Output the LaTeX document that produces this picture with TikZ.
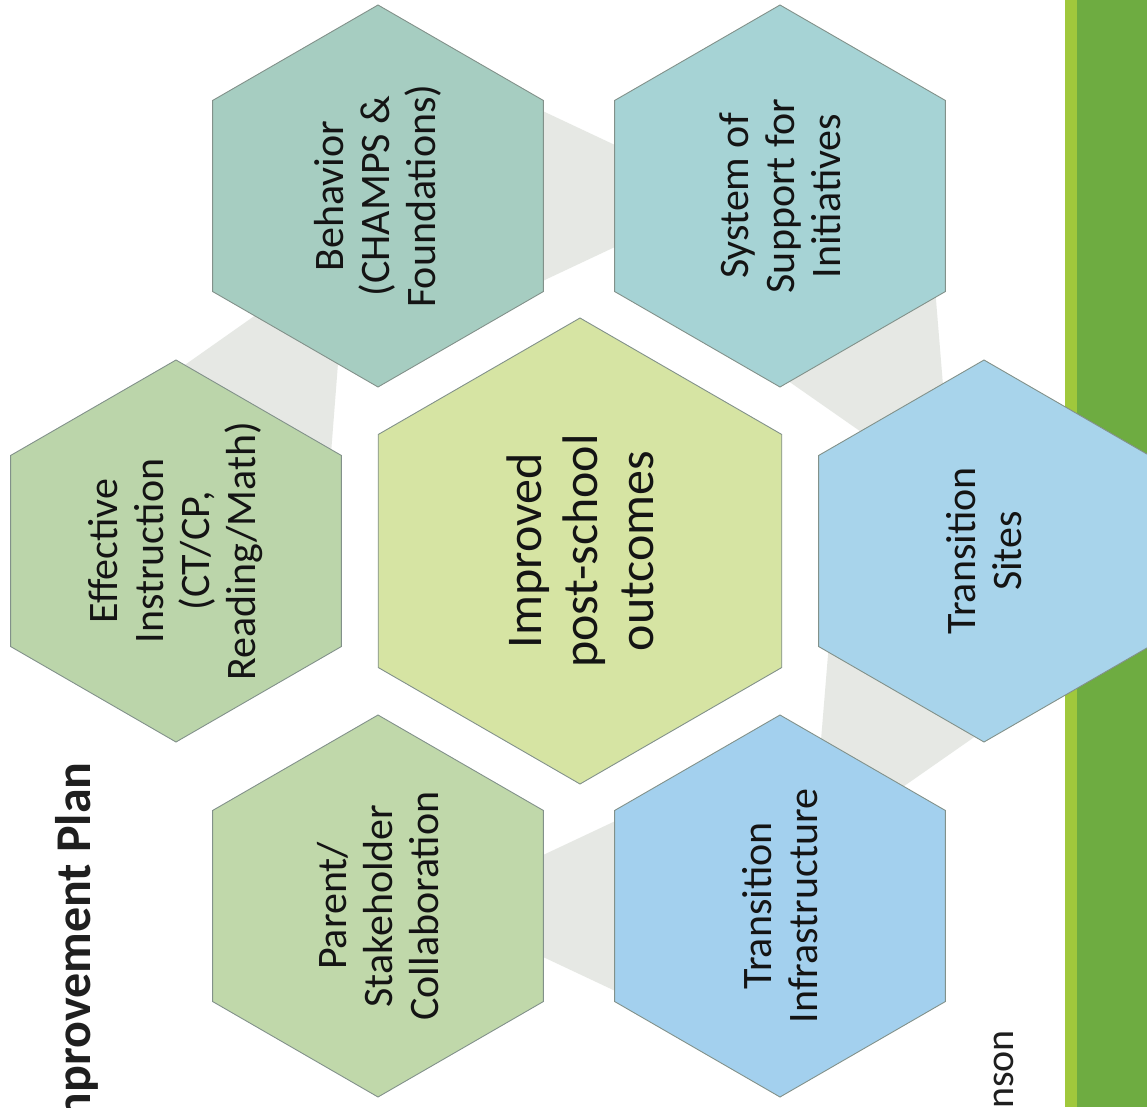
\documentclass[tikz,border=0pt]{standalone}
\usepackage{fontspec}
\setmainfont{Carlito}
\usetikzlibrary{shapes.geometric,calc,backgrounds}

\definecolor{hubgreen}{HTML}{D6E4A3}
\definecolor{instrgreen}{HTML}{BBD5AA}
\definecolor{parentgreen}{HTML}{C0D8AA}
\definecolor{behavteal}{HTML}{A6CDC1}
\definecolor{suppteal}{HTML}{A6D3D5}
\definecolor{sitesblue}{HTML}{A8D4EB}
\definecolor{infrablue}{HTML}{A3D0EE}
\definecolor{bandgray}{HTML}{E6E8E4}
\definecolor{bargreen}{HTML}{6EAC41}
\definecolor{barlight}{HTML}{A0C83C}
\definecolor{edgegray}{HTML}{82918A}

\begin{document}
\begin{tikzpicture}[
    x=1pt, y=-1pt,
    hexcell/.style={regular polygon, regular polygon sides=6, rotate=90,
        minimum size=382pt, inner sep=-30pt, draw=edgegray, line width=0.9pt,
        align=center, text=black!92, font=\fontsize{42}{46}\selectfont},
    hub/.style={hexcell, minimum size=466pt, font=\fontsize{50}{56}\selectfont},
    band/.style={fill=bandgray},
    sidetext/.style={rotate=90, inner sep=0pt, text=black!88}
]

\useasboundingbox (0,0) rectangle (1147,1107);

% Side bar
\fill[bargreen] (1065,0) rectangle (1147,1107);
\fill[barlight] (1065,0) rectangle (1077,1107);

% Hexagons
\node[hub, fill=hubgreen] (hub) at (580,551) {Improved\\post-school\\outcomes};
\node[hexcell, fill=instrgreen] (instr) at (176,551) {Effective\\Instruction\\(CT/CP,\\Reading/Math)};
\node[hexcell, fill=behavteal] (behav) at (378,196) {Behavior\\(CHAMPS \&\\Foundations)};
\node[hexcell, fill=suppteal] (supp) at (780,196) {System of\\Support for\\Initiatives};
\node[hexcell, fill=sitesblue] (sites) at (984,551) {Transition\\Sites};
\node[hexcell, fill=infrablue] (infra) at (780,906) {Transition\\Infrastructure};
\node[hexcell, fill=parentgreen] (parent) at (378,906) {Parent/\\Stakeholder\\Collaboration};

% Links between the outer cells
\begin{scope}[on background layer]
\fill[white] (0,0) rectangle (1147,1107);
\foreach \a/\b in {instr/behav, behav/supp, supp/sites, sites/infra, infra/parent} {
    \path ($(\a)!120pt!(\b)$) coordinate (p) ($(\a)!290pt!(\b)$) coordinate (q);
    \fill[band] ($(p)!106pt!90:(\b)$) -- ($(q)!26pt!90:(\b)$)
        -- ($(q)!26pt!-90:(\b)$) -- ($(p)!106pt!-90:(\b)$) -- cycle;
}
\end{scope}

% Page texts
\node[sidetext, anchor=base east, font=\bfseries\fontsize{50}{56}\selectfont] (plan) at (90,762) {Improvement Plan};
\node[sidetext, anchor=base east, font=\fontsize{40}{44}\selectfont] (name) at (1013,1030) {nson};

\end{tikzpicture}
\end{document}
